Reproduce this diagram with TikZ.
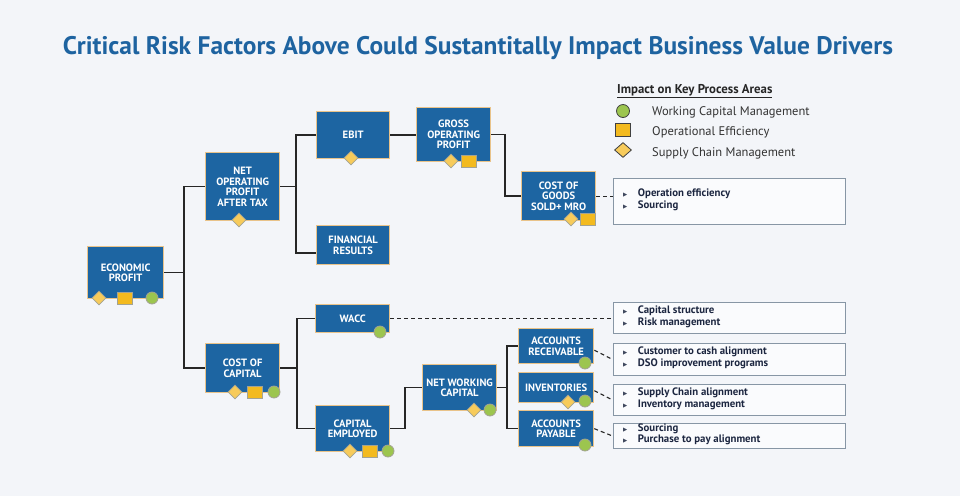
\documentclass[tikz,border=0pt]{standalone}
\usepackage{fontspec}
\setmainfont{PT Sans}
\newfontfamily\dejavu{DejaVu Sans}
\usetikzlibrary{shapes.geometric}
\definecolor{bg}{HTML}{F3F5F9}
\definecolor{nblue}{HTML}{1D65A2}
\definecolor{nborder}{HTML}{E9C38A}
\definecolor{tblue}{HTML}{1E63A0}
\definecolor{navy}{HTML}{1C2640}
\definecolor{tboxline}{HTML}{8796A5}
\definecolor{diamc}{HTML}{F7CB5B}
\definecolor{sqc}{HTML}{F3BA1F}
\definecolor{circc}{HTML}{9CC54F}
\definecolor{iconline}{HTML}{A3A393}
\newcommand{\bul}{{\dejavu\fontsize{5.5}{6}\selectfont\color{navy!85}▶}}
\newcommand{\twoitems}[2]{\begin{tabular}{@{}l@{\hspace{10.5pt}}l@{}}\bul & #1\\ \bul & #2\end{tabular}}
\begin{document}
\begin{tikzpicture}[x=1pt,y=-1pt,
 box/.style={draw=nborder, fill=nblue, line width=1.3pt, text=white, font=\bfseries\fontsize{10.6}{10.5}\selectfont, align=center, inner sep=0pt, anchor=north west},
 conn/.style={draw=black!85, line width=1.4pt},
 dconn/.style={draw=black!85, line width=1.1pt, dash pattern=on 4pt off 3pt},
 tbox/.style={draw=tboxline, fill=white!60!bg, line width=1.4pt, anchor=north west, inner sep=0pt, minimum width=232pt},
 titem/.style={anchor=west, align=left, font=\bfseries\fontsize{10.8}{11.5}\selectfont, text=navy, inner sep=0pt},
 dia/.style={shape=diamond, draw=iconline, fill=diamc, line width=0.8pt, minimum width=14pt, minimum height=14pt, inner sep=0pt},
 sq/.style={draw=iconline, fill=sqc, line width=0.8pt, minimum width=15pt, minimum height=12pt, inner sep=0pt},
 circ/.style={circle, draw=iconline, fill=circc, line width=0.8pt, minimum size=12pt, inner sep=0pt},
 legtext/.style={anchor=west, font=\fontsize{12.5}{14}\selectfont, text=black!80, inner sep=0pt},
]
\fill[bg] (0,0) rectangle (960,496);
\useasboundingbox (0,0) rectangle (960,496);

% title
\node[font=\bfseries\fontsize{23}{26}\selectfont, text=tblue, inner sep=0pt] (title) at (478,48) {\resizebox{830pt}{!}{Critical Risk Factors Above Could Sustantitally Impact Business Value Drivers}};

% legend
\node[anchor=west, font=\bfseries\fontsize{12.8}{14}\selectfont, text=black!85, inner sep=0pt] (lt) at (617,91) {\underline{Impact on Key Process Areas}};
\node[circ, draw=black!75, minimum size=13pt] (lc) at (623,111) {};
\node[sq, draw=black!75, minimum width=15pt, minimum height=13pt] (ls) at (623,130) {};
\node[dia, draw=black!75, minimum width=17pt, minimum height=15pt] (ld) at (623,150) {};
\node[legtext] (l1) at (652,112) {Working Capital Management};
\node[legtext] (l2) at (652,132) {Operational Efficiency};
\node[legtext] (l3) at (652,153) {Supply Chain Management};

% main nodes
\node[box, minimum width=76pt, minimum height=52pt] (ep) at (87,246) {ECONOMIC\\PROFIT};
\node[box, minimum width=74pt, minimum height=68pt] (nopat) at (205,152) {NET\\OPERATING\\PROFIT\\AFTER TAX};
\node[box, minimum width=73pt, minimum height=47pt] (ebit) at (316,111) {EBIT};
\node[box, minimum width=74pt, minimum height=54pt] (gop) at (416,107) {GROSS\\OPERATING\\PROFIT};
\node[box, minimum width=73pt, minimum height=39pt] (fr) at (316,225) {FINANCIAL\\RESULTS};
\node[box, minimum width=74pt, minimum height=49pt] (cogs) at (521,171) {COST OF\\GOODS\\SOLD+ MRO};
\node[box, minimum width=74pt, minimum height=49pt] (coc) at (205,343) {COST OF\\CAPITAL};
\node[box, minimum width=74pt, minimum height=28pt] (wacc) at (315,304) {WACC};
\node[box, minimum width=74pt, minimum height=46pt] (ce) at (315,405) {CAPITAL\\EMPLOYED};
\node[box, minimum width=74pt, minimum height=46pt] (nwc) at (422,364) {NET WORKING\\CAPITAL};
\node[box, minimum width=75pt, minimum height=35pt] (ar) at (518,328) {ACCOUNTS\\RECEIVABLE};
\node[box, minimum width=75pt, minimum height=30pt] (inv) at (518,372) {INVENTORIES};
\node[box, minimum width=75pt, minimum height=36pt] (ap) at (518,410) {ACCOUNTS\\PAYABLE};

% text boxes
\node[tbox, minimum height=46pt] (t1) at (613,178) {};
\node[tbox, minimum height=31pt] (t2) at (613,302) {};
\node[tbox, minimum height=32pt] (t3) at (613,343) {};
\node[tbox, minimum height=31pt] (t4) at (613,384) {};
\node[tbox, minimum height=25pt] (t5) at (613,423) {};
\node[titem] (t1x) at ([xshift=10pt,yshift=1.5pt]t1.west) {\twoitems{Operation efficiency}{Sourcing}};
\node[titem] (t2x) at ([xshift=10pt,yshift=1pt]t2.west) {\twoitems{Capital structure}{Risk management}};
\node[titem] (t3x) at ([xshift=10pt,yshift=1.5pt]t3.west) {\twoitems{Customer to cash alignment}{DSO improvement programs}};
\node[titem] (t4x) at ([xshift=10pt,yshift=1pt]t4.west) {\twoitems{Supply Chain alignment}{Inventory management}};
\node[titem] (t5x) at ([xshift=10pt,yshift=1.5pt]t5.west) {\twoitems{Sourcing}{Purchase to pay alignment}};

% junction coordinates
\coordinate (j1) at (184,0);
\coordinate (j2) at (296,0);
\coordinate (j3) at (505,0);
\coordinate (j4) at (297,0);
\coordinate (j5) at (405,0);
\coordinate (j6) at (507,0);
\coordinate (frin) at ([yshift=-8pt]fr.west);
\coordinate (arout) at ([yshift=-4pt]ar.east);
\coordinate (invout) at ([yshift=-3pt]inv.east);

% connectors
\draw[conn] (ep.east) -- (ep.east -| j1);
\draw[conn] (nopat.west) -| (j1 |- coc.west) -- (coc.west);
\draw[conn] (nopat.east) -- (nopat.east -| j2);
\draw[conn] (ebit.west) -| (j2 |- frin) -- (frin);
\draw[conn] (ebit.east) -- (ebit.east -| gop.west);
\draw[conn] (gop.east) -| (j3 |- cogs.west) -- (cogs.west);
\draw[conn] (coc.east) -- (coc.east -| j4);
\draw[conn] (wacc.west) -| (j4 |- ce.west) -- (ce.west);
\draw[conn] (ce.east) -- (ce.east -| j5) |- (nwc.west);
\draw[conn] (nwc.east) -- (nwc.east -| j6);
\draw[conn] (ar.west) -| (j6 |- ap.west) -- (ap.west);
\draw[dconn] (cogs.east) -- (cogs.east -| t1.west);
\draw[dconn] (wacc.east) -- (wacc.east -| t2.west);
\draw[dconn] (arout) -- (t3.west);
\draw[dconn] (invout) -- (t4.west);
\draw[dconn] (ap.east) -- (t5.west);

% icons
\node[dia] (ep-d) at (99,298) {};
\node[sq] (ep-s) at (125,298) {};
\node[circ] (ep-c) at (152,298) {};
\node[dia] (nopat-d) at (239,220) {};
\node[dia] (ebit-d) at (351,158) {};
\node[dia] (gop-d) at (451,161) {};
\node[sq] (gop-s) at (469,161) {};
\node[dia] (cogs-d) at (571,219) {};
\node[sq] (cogs-s) at (588,219) {};
\node[dia] (coc-d) at (235,392) {};
\node[sq] (coc-s) at (255,392) {};
\node[circ] (coc-c) at (274,392) {};
\node[circ] (wacc-c) at (380,332) {};
\node[dia] (ce-d) at (350,451) {};
\node[sq] (ce-s) at (370,451) {};
\node[circ] (ce-c) at (388,451) {};
\node[dia] (nwc-d) at (474,410) {};
\node[circ] (nwc-c) at (490,410) {};
\node[circ] (ar-c) at (585,363) {};
\node[dia] (inv-d) at (568,402) {};
\node[circ] (inv-c) at (585,401) {};
\node[circ] (ap-c) at (585,445) {};
\end{tikzpicture}
\end{document}
